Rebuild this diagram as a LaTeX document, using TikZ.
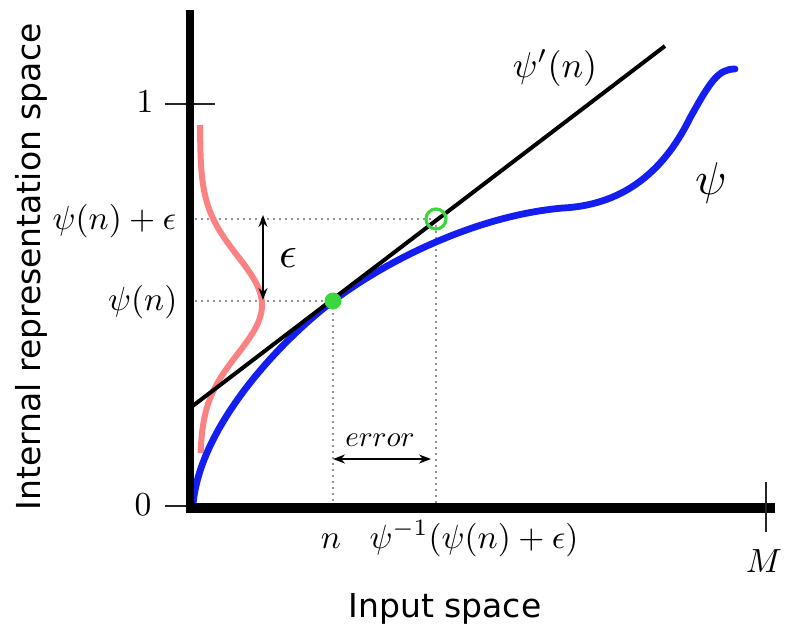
\documentclass[tikz,border=0pt]{standalone}
\usepackage{fontspec}
\setsansfont{DejaVu Sans}
\usetikzlibrary{arrows.meta}
\definecolor{curveblue}{RGB}{20,30,240}
\definecolor{gausspink}{RGB}{250,130,130}
\definecolor{dotgreen}{RGB}{60,215,60}
\begin{document}
\begin{tikzpicture}[x=1pt,y=-1pt,
  tickline/.style={line width=1.8pt,black!85},
  guide/.style={line width=1.6pt,gray!85,dash pattern=on 1.6pt off 4.4pt},
  mathlbl/.style={inner sep=0pt,scale=3.35},
  sflbl/.style={inner sep=0pt,scale=3.3,font=\sffamily},
  dblarrow/.style={line width=1.5pt,{Stealth[length=12pt,width=9pt]}-{Stealth[length=12pt,width=9pt]}}]
\useasboundingbox (0,0) rectangle (786,629);

% key points
\coordinate (top) at (190,10);
\coordinate (orig) at (190,508);
\coordinate (xend) at (775,508);
\coordinate (pn) at (333,301);
\coordinate (pe) at (436,219);
\coordinate (ynp) at (195,301);
\coordinate (yep) at (195,219);
\coordinate (xn) at (333,508);
\coordinate (xe) at (436,508);
\coordinate (tA) at (190,408);
\coordinate (tB) at (665,46);

% guide lines
\draw[guide] (yep) -- (pe);
\draw[guide] (ynp) -- (pn);
\draw[guide] (pn) -- (xn);
\draw[guide] (pe) -- (xe);

% gaussian
\draw[gausspink, line width=6pt] plot[domain=125:453, samples=90, variable=\t]
  ({200+62*exp(-((\t-305)/49)^2/2)}, \t);

% psi curve
\coordinate (bstart) at (193,505);
\coordinate (bflat) at (563,208);
\coordinate (bsteep) at (690,118);
\coordinate (bend) at (735,69);
\draw[curveblue, line width=6.8pt, line cap=round]
  (bstart) .. controls (199,430) and (275,345) .. (pn)
  .. controls (390,258) and (480,215) .. (bflat)
  .. controls (620,205) and (662,175) .. (bsteep)
  .. controls (710,82) and (718,69) .. (bend);

% tangent
\draw[line width=4pt] (tA) -- (tB);

% points
\fill[dotgreen] (pn) circle (8.5);
\draw[dotgreen, line width=3.2pt] (pe) circle (10);

% ticks
\coordinate (t1a) at (165,104); \coordinate (t1b) at (215,104);
\coordinate (t0a) at (165,506); \coordinate (t0b) at (190,506);
\coordinate (tMa) at (766,482); \coordinate (tMb) at (766,532);
\draw[tickline] (t1a) -- (t1b);
\draw[tickline] (t0a) -- (t0b);

% axes
\draw[line width=8pt] (top) -- (190,512);
\draw[line width=10pt] (186,508) -- (xend);
\draw[tickline] (tMa) -- (tMb);

% arrows
\coordinate (ea) at (263,215); \coordinate (eb) at (263,300);
\draw[dblarrow] (ea) -- (eb);
\coordinate (ra) at (333,459); \coordinate (rb) at (431,459);
\draw[dblarrow] (ra) -- (rb);

% labels
\node[mathlbl, anchor=base] (lone) at (145,112) {$1$};
\node[mathlbl, anchor=base] (lzero) at (143,515) {$0$};
\node[mathlbl, anchor=east] (lpe) at (177,221) {$\psi(n)+\epsilon$};
\node[mathlbl, anchor=east] (lpn) at (178,302) {$\psi(n)$};
\node[mathlbl, anchor=base] (ln) at (331,548) {$n$};
\node[mathlbl, anchor=base west] (linv) at (369,548) {$\psi^{-1}(\psi(n)+\epsilon)$};
\node[mathlbl, anchor=base] (lM) at (764,572) {$M$};
\node[inner sep=0pt, scale=3.6] (lder) at (555,68) {$\psi'(n)$};
\node[inner sep=0pt, scale=4.6] (lpsi) at (711,183) {$\psi$};
\node[inner sep=0pt, scale=4.4] (leps) at (288,258) {$\epsilon$};
\node[inner sep=0pt, scale=2.9] (lerr) at (380,440) {$error$};
\node[sflbl, anchor=base] (lin) at (445,617) {Input space};
\node[sflbl, anchor=base, rotate=90] (lint) at (40,267) {Internal representation space};
\end{tikzpicture}
\end{document}
